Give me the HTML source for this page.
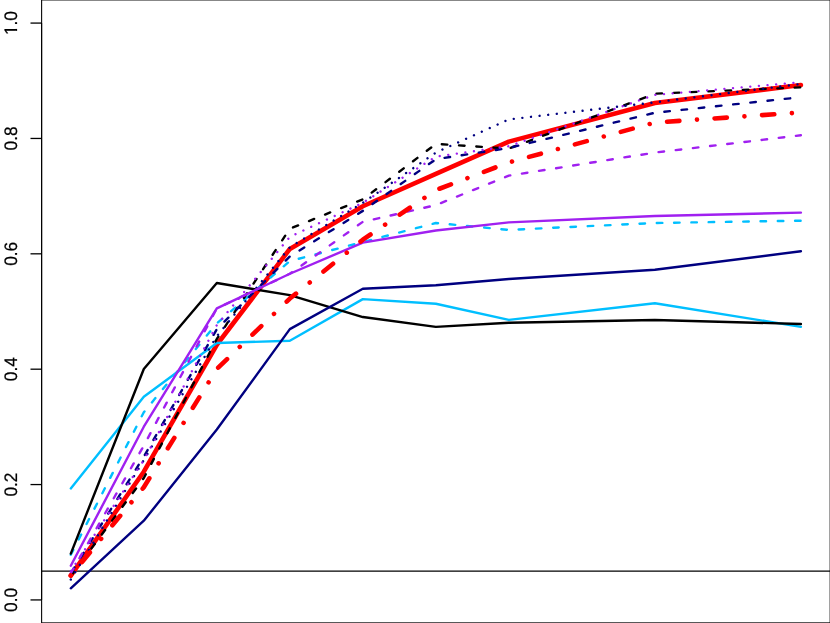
<!DOCTYPE html>
<html><head><meta charset="utf-8"><title>plot</title>
<style>
html,body{margin:0;padding:0;background:#fff;}
body{width:830px;height:623px;overflow:hidden;font-family:"Liberation Sans",sans-serif;}
svg{display:block;will-change:transform;}
text{font-family:"Liberation Sans",sans-serif;font-size:17.3px;fill:#000;stroke:#000;stroke-width:0.22px;text-rendering:geometricPrecision;}
</style></head><body>
<svg width="830" height="623" viewBox="0 0 830 623">
<rect x="0" y="0" width="830" height="623" fill="#ffffff"/>
<line x1="41.5" y1="571.09" x2="830" y2="571.09" stroke="#000" stroke-width="1.3"/>
<g fill="none" stroke-linecap="round" stroke-linejoin="round">
<polyline points="70.80,575.56 143.81,471.70 216.82,344.74 289.83,248.95 362.84,206.25 435.85,173.94 508.86,141.62 654.88,102.96 800.90,85.07" stroke="#FF0000" stroke-width="4.60"/>
<polyline points="70.80,488.43 143.81,396.68 216.82,343.01 289.83,340.70 362.84,299.16 435.85,303.77 508.86,319.93 654.88,303.20 800.90,326.86" stroke="#00BFFF" stroke-width="2.40"/>
<polyline points="70.80,554.79 143.81,412.26 216.82,323.39 289.83,261.07 362.84,242.03 435.85,222.99 508.86,229.91 654.88,222.99 800.90,220.68" stroke="#00BFFF" stroke-width="2.40" stroke-dasharray="5.55 11.74"/>
<polyline points="70.80,553.64 143.81,368.98 216.82,283.00 289.83,295.12 362.84,317.05 435.85,326.86 508.86,322.82 654.88,319.93 800.90,323.97" stroke="#000000" stroke-width="2.40"/>
<polyline points="70.80,576.14 143.81,478.04 216.82,338.97 289.83,228.76 362.84,199.33 435.85,143.93 508.86,148.55 654.88,93.73 800.90,87.38" stroke="#000000" stroke-width="2.40" stroke-dasharray="5.55 11.74"/>
<polyline points="70.80,588.26 143.81,520.74 216.82,429.57 289.83,329.16 362.84,288.77 435.85,285.31 508.86,278.96 654.88,269.73 800.90,251.26" stroke="#000080" stroke-width="2.40"/>
<polyline points="70.80,573.26 143.81,456.69 216.82,329.16 289.83,256.46 362.84,210.87 435.85,159.22 508.86,147.97 654.88,112.77 800.90,97.19" stroke="#000080" stroke-width="2.40" stroke-dasharray="5.55 11.74" stroke-dashoffset="-1.30"/>
<polyline points="70.80,579.60 143.81,460.15 216.82,336.09 289.83,247.22 362.84,202.79 435.85,152.59 508.86,119.41 654.88,102.38 800.90,83.92" stroke="#000080" stroke-width="2.40" stroke-dasharray="0.01 8.65"/>
<polyline points="70.80,565.75 143.81,426.69 216.82,308.39 289.83,273.77 362.84,242.61 435.85,230.49 508.86,222.41 654.88,216.06 800.90,212.60" stroke="#A020F0" stroke-width="2.40"/>
<polyline points="70.80,573.26 143.81,445.73 216.82,308.39 289.83,273.77 362.84,221.83 435.85,205.10 508.86,175.67 654.88,152.59 800.90,135.27" stroke="#A020F0" stroke-width="2.40" stroke-dasharray="5.55 11.74"/>
<polyline points="70.80,570.95 143.81,460.15 216.82,325.12 289.83,236.84 362.84,202.79 435.85,156.63 508.86,146.24 654.88,94.88 800.90,82.19" stroke="#A020F0" stroke-width="2.40" stroke-dasharray="0.01 8.65"/>
<polyline points="70.80,575.56 143.81,487.28 216.82,368.98 289.83,298.58 362.84,239.72 435.85,190.09 508.86,162.40 654.88,122.58 800.90,112.48" stroke="#FF0000" stroke-width="4.60" stroke-dasharray="0.01 17.63 12.30 17.63"/>
</g>
<g fill="none" stroke="#000" stroke-width="1.3" stroke-linecap="butt">
<rect x="41.62" y="-0.07" width="788.55" height="622.955" stroke-width="1.08"/>
<line x1="41.62" y1="599.93" x2="41.62" y2="23.08" stroke-width="1.08"/>
<line x1="30.5" y1="599.93" x2="41.5" y2="599.93"/>
<line x1="30.5" y1="484.56" x2="41.5" y2="484.56"/>
<line x1="30.5" y1="369.19" x2="41.5" y2="369.19"/>
<line x1="30.5" y1="253.82" x2="41.5" y2="253.82"/>
<line x1="30.5" y1="138.45" x2="41.5" y2="138.45"/>
<line x1="30.5" y1="23.08" x2="41.5" y2="23.08"/>
</g>
<text transform="translate(17.0 599.93) rotate(-90) scale(1 1.045)" text-anchor="middle">0.0</text>
<text transform="translate(17.0 484.56) rotate(-90) scale(1 1.045)" text-anchor="middle">0.2</text>
<text transform="translate(17.0 369.19) rotate(-90) scale(1 1.045)" text-anchor="middle">0.4</text>
<text transform="translate(17.0 253.82) rotate(-90) scale(1 1.045)" text-anchor="middle">0.6</text>
<text transform="translate(17.0 138.45) rotate(-90) scale(1 1.045)" text-anchor="middle">0.8</text>
<text transform="translate(17.0 23.08) rotate(-90) scale(1 1.045)" text-anchor="middle">1.0</text>
<g transform="translate(17.0 23.08) rotate(-90) scale(1 1.045)" fill="#fff" stroke="none"><rect x="-11.3" y="-2.0" width="3.5" height="3.3"/><rect x="-5.85" y="-2.0" width="3.4" height="3.3"/></g>
</svg></body></html>
